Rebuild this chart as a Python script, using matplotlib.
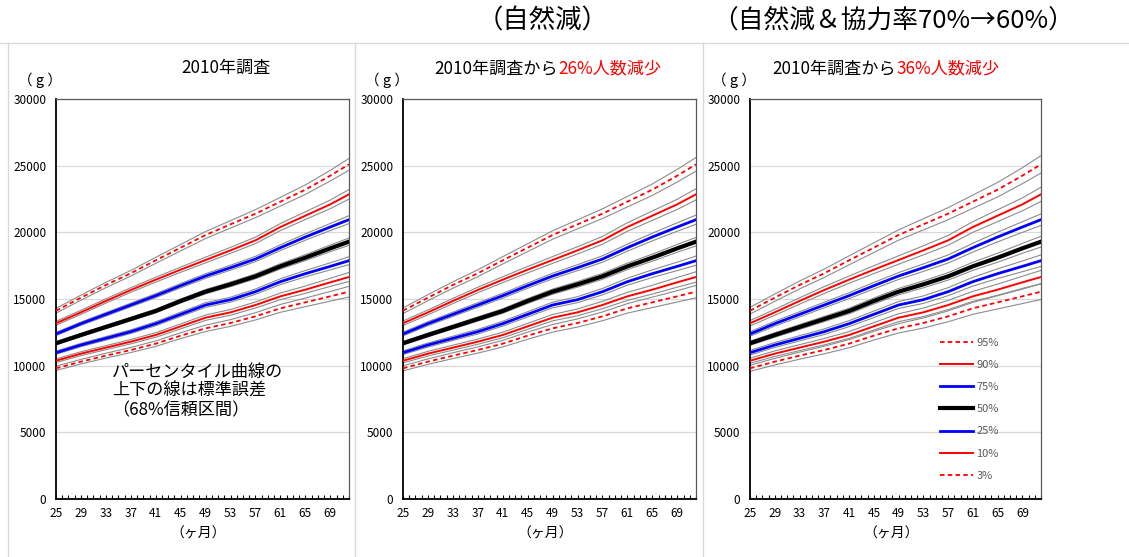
import matplotlib
matplotlib.use("Agg")
import matplotlib.pyplot as plt
from matplotlib.lines import Line2D

plt.rcParams['font.family'] = ['Noto Sans CJK JP', 'DejaVu Sans']

# months on the x axis
months = [25, 29, 33, 37, 41, 45, 49, 53, 57, 61, 65, 69, 72]

# percentile curves (g)
p95 = [14120, 15100, 16050, 16930, 17900, 18850, 19800, 20600, 21400, 22300, 23200, 24250, 25100]
p90 = [13180, 14000, 14850, 15675, 16450, 17200, 17925, 18650, 19400, 20400, 21250, 22100, 22850]
p75 = [12375, 13150, 13850, 14550, 15250, 16000, 16725, 17350, 18000, 18850, 19650, 20400, 20950]
p50 = [11680, 12300, 12900, 13500, 14100, 14850, 15550, 16100, 16700, 17450, 18100, 18800, 19300]
p25 = [10970, 11550, 12050, 12550, 13150, 13850, 14550, 14950, 15550, 16300, 16900, 17450, 17875]
p10 = [10370, 10900, 11350, 11800, 12300, 12950, 13600, 14000, 14550, 15200, 15700, 16250, 16650]
p03 = [9800, 10300, 10750, 11175, 11650, 12250, 12800, 13200, 13700, 14300, 14750, 15200, 15550]

labels = ['95%', '90%', '75%', '50%', '25%', '10%', '3%']
curves = [p95, p90, p75, p50, p25, p10, p03]

# standard error half-width by month for each panel, and a factor per percentile
se_panel1 = [170, 180, 190, 200, 215, 230, 250, 265, 285, 310, 340, 380, 420]
se_panel2 = [200, 215, 230, 245, 260, 280, 300, 320, 345, 375, 410, 450, 490]
se_panel3 = [240, 260, 280, 300, 320, 345, 370, 400, 430, 470, 520, 570, 620]
se_factor = [1.05, 0.85, 0.7, 0.65, 0.7, 0.8, 0.95]

subtitles_black = ['2010年調査', '2010年調査から', '2010年調査から']
subtitles_red = ['', '26%人数減少', '36%人数減少']

styles = [
    dict(color='red', lw=1.3, ls=(0, (2.5, 1.8))),
    dict(color='red', lw=1.4, ls='-'),
    dict(color='blue', lw=2.0, ls='-'),
    dict(color='black', lw=3.0, ls='-'),
    dict(color='blue', lw=2.0, ls='-'),
    dict(color='red', lw=1.4, ls='-'),
    dict(color='red', lw=1.3, ls=(0, (2.5, 1.8))),
]

W, H = 1129, 557
fig = plt.figure(figsize=(W / 100, H / 100), dpi=100)


def fx(x):
    return x / W


def fy(y):
    return 1 - y / H


# panel separators
sep_col = '#d9d9d9'
fig.add_artist(Line2D([0, 1], [fy(43), fy(43)], color=sep_col, lw=1))
for xs in [8, 355, 703]:
    fig.add_artist(Line2D([fx(xs), fx(xs)], [fy(43), 0], color=sep_col, lw=1))

fig.text(fx(543), fy(21), '（自然減）', ha='center', va='center', fontsize=19)
fig.text(fx(893), fy(21), '（自然減＆協力率70%→60%）', ha='center', va='center', fontsize=18.5)

panel_left = [56, 403, 750]
panel_right = [349, 696, 1041]
ax_top, ax_bot = 99, 499
se_all = [se_panel1, se_panel2, se_panel3]

for k in range(3):
    l, r = panel_left[k], panel_right[k]
    ax = fig.add_axes([fx(l), fy(ax_bot), fx(r - l), (ax_bot - ax_top) / H])
    se = se_all[k]
    handles = []
    for c, sf, st, lab in zip(curves, se_factor, styles, labels):
        up = [v + s * sf for v, s in zip(c, se)]
        lo = [v - s * sf for v, s in zip(c, se)]
        ax.plot(months, up, color='#8c8c8c', lw=0.8, zorder=2)
        ax.plot(months, lo, color='#8c8c8c', lw=0.8, zorder=2)
        h, = ax.plot(months, c, zorder=3, label=lab, **st)
        handles.append(h)

    ax.set_xlim(25, 72)
    ax.set_ylim(0, 30000)
    ax.set_yticks(range(0, 30001, 5000))
    ax.set_xticks(range(25, 72, 4))
    ax.set_xticks(range(25, 73), minor=True)
    ax.tick_params(axis='y', length=0, labelsize=8.5, pad=7)
    ax.tick_params(axis='x', which='both', direction='in', length=3, width=0.8,
                   labelsize=8.5, pad=6)
    ax.grid(axis='y', color='#d9d9d9', lw=0.9)
    ax.set_axisbelow(True)
    for s in ['left', 'bottom']:
        ax.spines[s].set_color('black')
        ax.spines[s].set_linewidth(1.3)
    for s in ['top', 'right']:
        ax.spines[s].set_color('#595959')
        ax.spines[s].set_linewidth(0.9)

    fig.text(fx(l - 16), fy(80), '（ g ）', ha='center', va='center', fontsize=10.5)
    fig.text(fx((l + r) / 2 - 4), fy(534), '（ヶ月）', ha='center', va='center', fontsize=10)

    if subtitles_red[k]:
        split = [0, 558, 896][k]
        fig.text(fx(split), fy(68), subtitles_black[k], ha='right', va='center', fontsize=12.3)
        fig.text(fx(split), fy(68), subtitles_red[k], ha='left', va='center',
                 fontsize=12.3, color='red')
    else:
        fig.text(fx(226), fy(68), subtitles_black[k], ha='center', va='center', fontsize=12.3)

    if k == 2:
        leg = ax.legend(handles=handles, loc='upper left',
                        bbox_to_anchor=(fx(934), fy(332)), bbox_transform=fig.transFigure,
                        frameon=False, fontsize=8, handlelength=3.0, handletextpad=0.3,
                        labelspacing=1.1, borderpad=0)
        for t in leg.get_texts():
            t.set_color('#595959')

fig.text(fx(112), fy(391), 'パーセンタイル曲線の\n上下の線は標準誤差\n（68%信頼区間）',
         ha='left', va='center', fontsize=12.3, linespacing=1.1)

fig.savefig('out.png', dpi=100)
